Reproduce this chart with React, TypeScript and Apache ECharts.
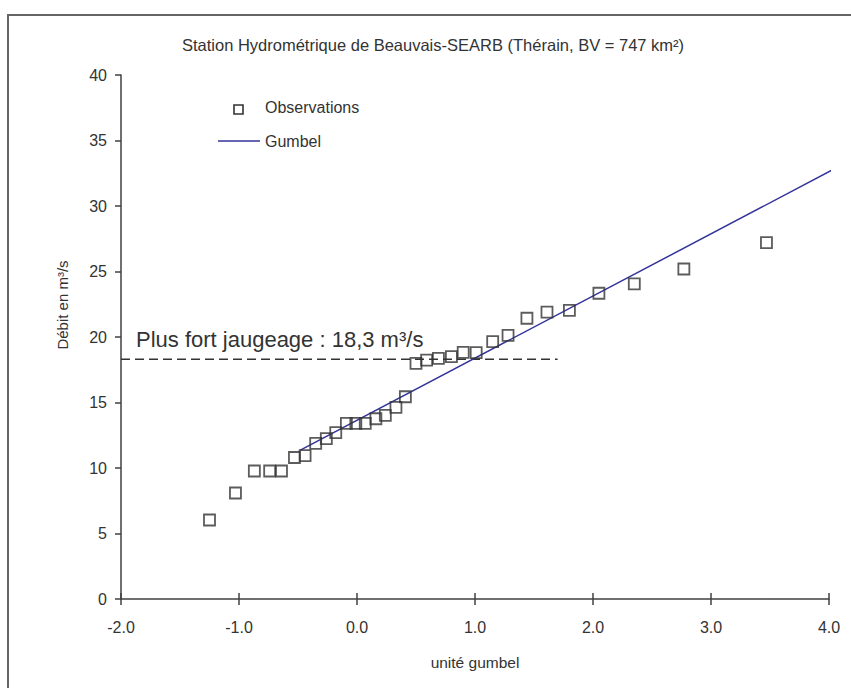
import React, { useEffect, useRef } from "react";
import * as echarts from "echarts";

const titleText = "Station Hydrométrique de Beauvais-SEARB (Thérain, BV = 747 km²)";
const xTicks = [-2, -1, 0, 1, 2, 3, 4];
const obsU = [-1.25, -1.03, -0.87, -0.74, -0.64, -0.53, -0.44, -0.35, -0.26, -0.18, -0.09, -0.01, 0.07, 0.16, 0.24, 0.33, 0.41, 0.5, 0.59, 0.69, 0.8, 0.9, 1.01, 1.15, 1.28, 1.44, 1.61, 1.8, 2.05, 2.35, 2.77, 3.47];
const obsQ = [6.03, 8.09, 9.77, 9.77, 9.77, 10.8, 10.94, 11.88, 12.24, 12.7, 13.4, 13.4, 13.4, 13.76, 14.02, 14.63, 15.44, 17.99, 18.24, 18.37, 18.5, 18.83, 18.8, 19.64, 20.13, 21.43, 21.9, 22.04, 23.34, 24.05, 25.19, 27.2];
const gumbelU = [-0.48, 4.06];
const gumbelQ = [11.37, 32.9];
const jaugeU = [-2, 1.7];
const jaugeQ = [18.3, 18.3];

const FONT = "'Liberation Sans', Arial, sans-serif";
const TXT = "#333333";

export default function App() {
  const ref = useRef<HTMLDivElement>(null);
  useEffect(() => {
    if (!ref.current) return;
    const chart = echarts.init(ref.current, undefined, { renderer: "svg" });
    chart.setOption({
      animation: false,
      backgroundColor: "#ffffff",
      textStyle: { fontFamily: FONT },
      grid: { left: 121, right: 22, top: 75, bottom: 89 },
      xAxis: [
        {
          type: "value",
          min: -2,
          max: 4,
          interval: 1,
          splitLine: { show: false },
          axisLine: { onZero: false, lineStyle: { color: "#404040", width: 1.5 } },
          axisTick: { show: true, inside: false, length: 6, lineStyle: { color: "#404040", width: 1.5 } },
          axisLabel: {
            color: TXT,
            fontSize: 16,
            fontFamily: FONT,
            margin: 20,
            formatter: (v: number) => (xTicks.includes(v) ? v.toFixed(1) : ""),
          },
        },
        {
          type: "value",
          min: -2,
          max: 4,
          interval: 1,
          position: "bottom",
          splitLine: { show: false },
          axisLine: { show: false, onZero: false },
          axisTick: { show: true, inside: true, length: 6, lineStyle: { color: "#404040", width: 1.5 } },
          axisLabel: { show: false },
        },
      ],
      yAxis: {
        type: "value",
        min: 0,
        max: 40,
        interval: 5,
        splitLine: { show: false },
        axisLine: { show: true, onZero: false, lineStyle: { color: "#404040", width: 1.5 } },
        axisTick: { show: true, inside: false, length: 6, lineStyle: { color: "#404040", width: 1.5 } },
        axisLabel: { color: TXT, fontSize: 16, fontFamily: FONT, margin: 14 },
      },
      series: [
        {
          name: "Plus fort jaugeage",
          type: "line",
          data: jaugeU.map((u, i) => [u, jaugeQ[i]]),
          showSymbol: false,
          symbol: "none",
          lineStyle: { color: "#333333", width: 1.5, type: [9, 5] },
          z: 2,
        },
        {
          name: "Gumbel",
          type: "line",
          data: gumbelU.map((u, i) => [u, gumbelQ[i]]),
          showSymbol: false,
          symbol: "none",
          clip: false,
          lineStyle: { color: "#33339a", width: 1.5 },
          z: 3,
        },
        {
          name: "Observations",
          type: "scatter",
          data: obsU.map((u, i) => [u, obsQ[i]]),
          symbol: "rect",
          symbolSize: 11,
          itemStyle: { color: "rgba(255,255,255,0)", borderColor: "#333333", borderWidth: 1.8 },
          z: 4,
        },
      ],
      graphic: [
        {
          type: "rect",
          shape: { x: 8, y: 15, width: 900, height: 700 },
          style: { fill: "none", stroke: "#666666", lineWidth: 2 },
          silent: true,
          z: 0,
        },
        {
          type: "text",
          x: 433,
          y: 45,
          style: { text: titleText, font: `16.5px ${FONT}`, fill: TXT, align: "center", verticalAlign: "middle" },
        },
        {
          type: "rect",
          shape: { x: 234, y: 105, width: 9, height: 9 },
          style: { fill: "#fff", stroke: "#333333", lineWidth: 1.6 },
        },
        {
          type: "text",
          x: 265,
          y: 107,
          style: { text: "Observations", font: `16px ${FONT}`, fill: TXT, align: "left", verticalAlign: "middle" },
        },
        {
          type: "line",
          shape: { x1: 218, y1: 141, x2: 260, y2: 141 },
          style: { stroke: "#33339a", lineWidth: 1.5 },
        },
        {
          type: "text",
          x: 265,
          y: 141,
          style: { text: "Gumbel", font: `16px ${FONT}`, fill: TXT, align: "left", verticalAlign: "middle" },
        },
        {
          type: "text",
          x: 136,
          y: 339,
          style: { text: "Plus fort jaugeage : 18,3 m³/s", font: `22px ${FONT}`, fill: TXT, align: "left", verticalAlign: "middle" },
        },
        {
          type: "text",
          x: 62,
          y: 305,
          rotation: Math.PI / 2,
          style: { text: "Débit en m³/s", font: `15px ${FONT}`, fill: TXT, align: "center", verticalAlign: "middle" },
        },
        {
          type: "text",
          x: 475,
          y: 662,
          style: { text: "unité gumbel", font: `15.5px ${FONT}`, fill: TXT, align: "center", verticalAlign: "middle" },
        },
      ],
    });
    return () => chart.dispose();
  }, []);
  return <div ref={ref} style={{ position: "fixed", left: 0, top: 0, width: 851, height: 688 }} />;
}
